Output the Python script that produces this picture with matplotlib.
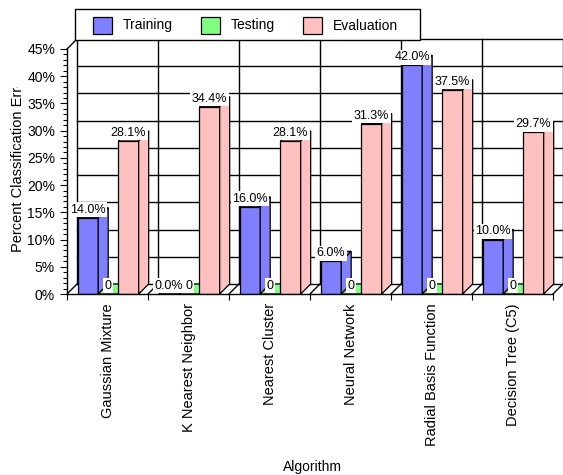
import matplotlib
matplotlib.use("Agg")
import matplotlib.pyplot as plt
from matplotlib.patches import Polygon, Rectangle
from matplotlib.transforms import Bbox, TransformedBbox

plt.rcParams['font.family'] = ['Liberation Sans', 'DejaVu Sans']

# ---- data ----
algorithms = ["Gaussian Mixture", "K Nearest Neighbor", "Nearest Cluster",
              "Neural Network", "Radial Basis Function", "Decision Tree (C5)"]
series_names = ["Training", "Testing", "Evaluation"]
training = [14.0, 0.0, 16.0, 6.0, 42.0, 10.0]
testing = [0, 0, 0, 0, 0, 0]
evaluation = [28.1, 34.4, 28.1, 31.3, 37.5, 29.7]
label_formats = ["{:.1f}%", "{:.0f}", "{:.1f}%"]
colors = ["#8080FF", "#80FF80", "#FFC0C0"]
y_ticks = list(range(0, 50, 5))

series = [training, testing, evaluation]

# ---- figure / axes geometry (pixels) ----
W, H = 563, 475
fig = plt.figure(figsize=(W / 100, H / 100), dpi=100)
fig.patch.set_facecolor("white")

AX_L, AX_R, AX_B, AX_T = 67, 563, 294, 40
PX_PER_CAT = 81.0
PX_PER_PCT = (294 - 49) / 45.0
ax = fig.add_axes([AX_L / W, 1 - AX_B / H, (AX_R - AX_L) / W, (AX_B - AX_T) / H])
ax.set_xlim(0, (AX_R - AX_L) / PX_PER_CAT)
ax.set_ylim(0, (AX_B - AX_T) / PX_PER_PCT)
ax.patch.set_alpha(0)

# 3-D depth offsets in data units
DX = 10 / PX_PER_CAT
DY = 10 / PX_PER_PCT
n = len(algorithms)
ymax = y_ticks[-1]
xr = ax.get_xlim()[1]
GRID_KW = dict(color="black", lw=1.0, zorder=1, clip_on=False)

# back wall: horizontal gridlines
for v in y_ticks:
    ax.plot([DX, xr], [v + DY, v + DY], **GRID_KW)
# back wall: vertical category separators
for i in range(n + 1):
    ax.plot([i + DX, i + DX], [DY, ymax + DY], **GRID_KW)
# side wall / floor diagonals
ax.plot([0, DX], [ymax, ymax + DY], **GRID_KW)
for i in range(n + 1):
    ax.plot([i, i + DX], [0, DY], **GRID_KW)

# ---- bars ----
BAR_W = 0.25
START = 0.135
EDGE = dict(edgecolor="black", linewidth=0.9)
for i in range(n):
    for k, (vals, col) in enumerate(zip(series, colors)):
        v = vals[i]
        x0 = i + START + k * BAR_W
        x1 = x0 + BAR_W
        ax.bar(x0, v, width=BAR_W, align="edge", color=col, zorder=3, **EDGE)
        ax.add_patch(Polygon([(x0, v), (x1, v), (x1 + DX, v + DY), (x0 + DX, v + DY)],
                             closed=True, facecolor=col, zorder=3, **EDGE))
        ax.add_patch(Polygon([(x1, 0), (x1 + DX, DY), (x1 + DX, v + DY), (x1, v)],
                             closed=True, facecolor=col, zorder=3, **EDGE))

# value labels
for i in range(n):
    for k, vals in enumerate(series):
        v = vals[i]
        xc = i + START + k * BAR_W + BAR_W / 2
        ax.annotate(label_formats[k].format(v), (xc, v), xytext=(0, 5.8),
                    textcoords="offset points", ha="center", va="center",
                    fontsize=9, zorder=10,
                    bbox=dict(boxstyle="square,pad=0.12", fc="white", ec="none"))

# ---- axes, ticks ----
for s in ("top", "right"):
    ax.spines[s].set_visible(False)
ax.spines["left"].set_bounds(0, ymax)
ax.spines["bottom"].set_bounds(0, n)
for s in ("left", "bottom"):
    ax.spines[s].set_linewidth(1.0)
    ax.spines[s].set_zorder(5)

ax.set_yticks(y_ticks)
ax.set_yticklabels([f"{t}%" for t in y_ticks])
ax.set_yticks(range(0, ymax + 1), minor=True)
ax.tick_params(axis="y", which="major", length=5, width=0.8, pad=3.6, labelsize=10)
ax.tick_params(axis="y", which="minor", length=2.6, width=0.8)

ax.set_xticks([i + 0.5 for i in range(n)])
ax.set_xticklabels(algorithms, rotation=90, fontsize=10.5)
ax.set_xticks(range(n + 1), minor=True)
ax.tick_params(axis="x", which="major", length=0, pad=6.6)
ax.tick_params(axis="x", which="minor", length=4.3, width=0.8)

# axis titles
ylab = fig.text(18 / W, 1 - 252 / H, "Percent Classification Error", rotation=90,
                ha="center", va="bottom", fontsize=10.5)
ylab.set_clip_box(TransformedBbox(Bbox.from_extents(0, 0, 1, 1 - 87 / H), fig.transFigure))
ylab.set_clip_on(True)
fig.text(312 / W, 1 - 467 / H, "Algorithm", ha="center", va="center", fontsize=10)

# ---- legend ----
fig.add_artist(Rectangle((75 / W, 1 - 40 / H), (420 - 75) / W, 31 / H,
                         transform=fig.transFigure, facecolor="white",
                         edgecolor="black", linewidth=1.0, zorder=6))
patch_x = [93, 201, 303]
for name, col, px in zip(series_names, colors, patch_x):
    fig.add_artist(Rectangle((px / W, 1 - 34 / H), 19 / W, 17 / H,
                             transform=fig.transFigure, facecolor=col,
                             edgecolor="black", linewidth=0.9, zorder=7))
    fig.text((px + 30) / W, 1 - 25.5 / H, name, ha="left", va="center",
             fontsize=10, zorder=7)

fig.savefig("out.png", dpi=100, facecolor="white")
